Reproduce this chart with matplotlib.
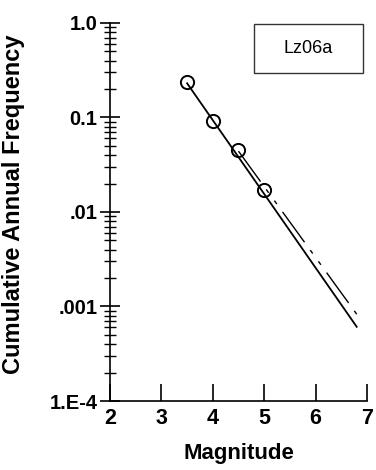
import numpy as np
import matplotlib
matplotlib.use("Agg")
import matplotlib.pyplot as plt
from matplotlib.patches import Rectangle
from matplotlib.ticker import FixedLocator, FixedFormatter, NullFormatter

# observed cumulative rates
mag_obs = [3.5, 4.0, 4.5, 5.0]
freq_obs = [0.235, 0.092, 0.045, 0.017]

# fitted recurrence (solid) and alternative model (dash-dot)
mag_fit = [3.5, 6.8]
freq_fit = [0.23, 6.1e-4]
mag_alt = [4.5, 6.8]
freq_alt = [0.044, 8.3e-4]

xticks = [2, 3, 4, 5, 6, 7]
yticks = [1e-4, 1e-3, 1e-2, 1e-1, 1.0]
ytick_labels = ["1.E-4", ".001", ".01", "0.1", "1.0"]
site = "Lz06a"

plt.rcParams["font.family"] = ["Liberation Sans", "DejaVu Sans"]

fig = plt.figure(figsize=(3.76, 4.70), dpi=100)
ax = fig.add_axes([0.2926, 0.1468, 0.6834, 0.8043])

ax.plot(mag_fit, freq_fit, color="black", lw=1.3)
alt, = ax.plot(mag_alt, freq_alt, color="black", lw=1.0)
alt.set_dashes([27, 7, 3, 7, 3, 7])
ax.plot(mag_obs, freq_obs, linestyle="none", marker="o", markersize=9.5,
        markerfacecolor="none", markeredgecolor="black", markeredgewidth=1.4)

ax.set_yscale("log")
ax.set_xlim(2, 7)
ax.set_ylim(1e-4, 1.0)

ax.xaxis.set_major_locator(FixedLocator(xticks))
ax.set_xticklabels([str(x) for x in xticks], fontsize=15.5, fontweight="bold")
ax.yaxis.set_major_locator(FixedLocator(yticks))
ax.yaxis.set_major_formatter(FixedFormatter(ytick_labels))
ax.yaxis.set_minor_formatter(NullFormatter())
for lab in ax.get_yticklabels():
    lab.set_fontsize(14.5)
    lab.set_fontweight("bold")

ax.tick_params(axis="x", which="major", direction="in", length=12, width=1.2, pad=5)
ax.tick_params(axis="y", which="major", direction="inout", length=14, width=1.2, pad=2)
ax.tick_params(axis="y", which="minor", direction="inout", length=9, width=1.0)

for side in ("top", "right"):
    ax.spines[side].set_visible(False)
for side in ("left", "bottom"):
    ax.spines[side].set_linewidth(1.2)

ax.set_xlabel("Magnitude", fontsize=16, fontweight="bold", labelpad=10)
ax.set_ylabel("Cumulative Annual Frequency", fontsize=17, fontweight="bold")
ax.yaxis.set_label_coords(-0.33, 0.52)

ax.add_patch(Rectangle((0.560, 0.868), 0.424, 0.130, transform=ax.transAxes,
                       fill=False, edgecolor="#333333", lw=1.0, clip_on=False))
ax.text(0.772, 0.9325, site, transform=ax.transAxes, fontsize=13,
        ha="center", va="center")

fig.savefig("out.png", dpi=100)
